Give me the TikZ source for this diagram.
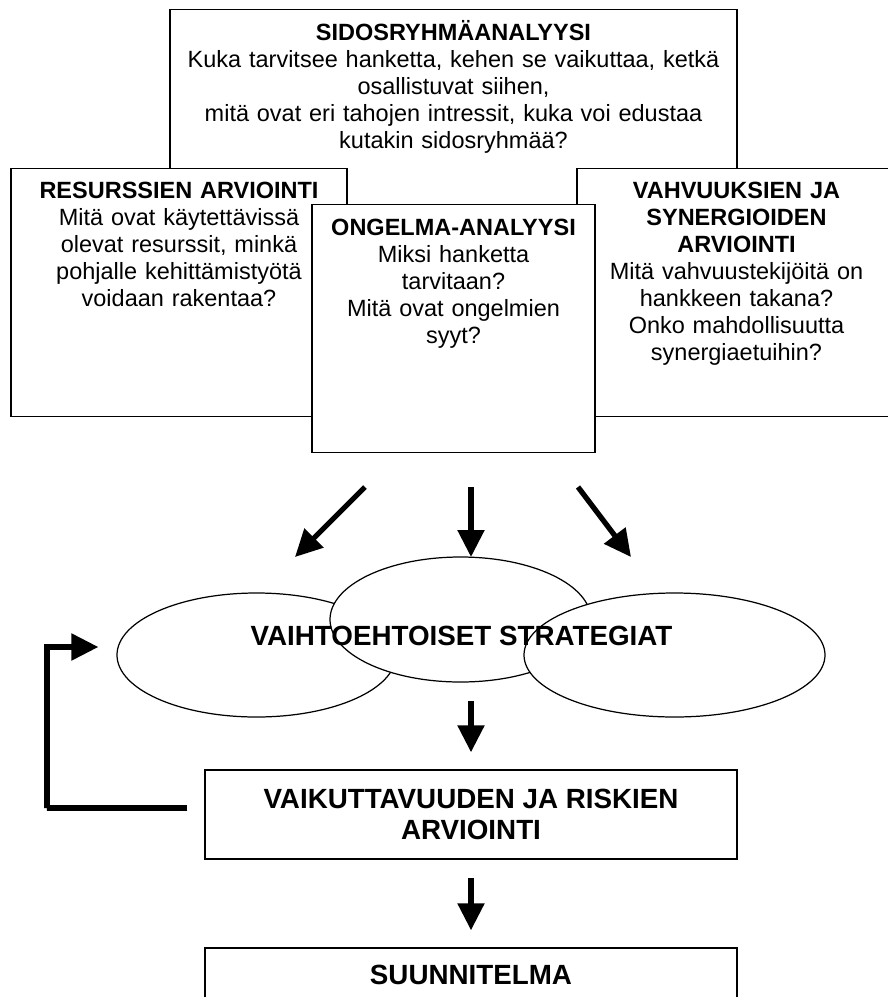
\documentclass[tikz,border=0pt]{standalone}
\usepackage{fontspec}
\setmainfont{Liberation Sans}
\usetikzlibrary{arrows.meta,shapes.geometric}

\begin{document}
\begin{tikzpicture}[
  panel/.style={draw,line width=0.8pt,fill=white,inner sep=0pt,anchor=north},
  paneltxt/.style={align=center,inner sep=0pt,anchor=base,text width=11cm,font=\fontsize{13.37}{15.37}\selectfont},
  oval/.style={ellipse,draw,line width=0.7pt,fill=white,inner sep=0pt,minimum height=2.48cm},
  step2/.style={draw,line width=0.8pt,fill=white,inner sep=0pt,minimum width=10.64cm,align=center,font=\fontsize{15.8}{17.8}\selectfont\bfseries},
  fat/.style={line width=3pt,-{Triangle[length=0.54cm,width=0.52cm]}},
]
\useasboundingbox (0,0) rectangle (17.74,-19.94);
% analyysit
\node[panel,minimum width=11.34cm,minimum height=6.22cm] (sido) at (9.07,-0.18) {};
\node[panel,minimum width=6.72cm,minimum height=4.96cm] (res) at (3.58,-3.36) {};
\node[panel,minimum width=6.40cm,minimum height=4.96cm] (vahv) at (14.74,-3.36) {};
\node[panel,minimum width=5.66cm,minimum height=4.96cm] (ong) at (9.07,-4.07) {};
\node[paneltxt] (sidotxt) at (9.07,-0.808) {\textbf{SIDOSRYHMÄANALYYSI}\\Kuka tarvitsee hanketta, kehen se vaikuttaa, ketkä\\osallistuvat siihen,\\mitä ovat eri tahojen intressit, kuka voi edustaa\\kutakin sidosryhmää?};
\node[paneltxt] (restxt) at (3.58,-3.968) {\textbf{RESURSSIEN ARVIOINTI}\\Mitä ovat käytettävissä\\olevat resurssit, minkä\\pohjalle kehittämistyötä\\voidaan rakentaa?};
\node[paneltxt] (ongtxt) at (9.07,-4.70) {\textbf{ONGELMA-ANALYYSI}\\Miksi hanketta\\tarvitaan?\\Mitä ovat ongelmien\\syyt?};
\node[paneltxt] (vahvtxt) at (14.73,-3.968) {\textbf{VAHVUUKSIEN JA}\\\textbf{SYNERGIOIDEN}\\\textbf{ARVIOINTI}\\Mitä vahvuustekijöitä on\\hankkeen takana?\\Onko mahdollisuutta\\synergiaetuihin?};
% strategiat
\node[oval,minimum width=5.58cm] (ell1) at (5.13,-13.10) {};
\node[oval,minimum width=5.22cm,minimum height=2.50cm] (ell2) at (9.21,-12.39) {};
\node[oval,minimum width=6.02cm] (ell3) at (13.49,-13.10) {};
\node[font=\fontsize{15.8}{17.8}\selectfont\bfseries,inner sep=0pt] (strat) at (9.23,-12.72) {VAIHTOEHTOISET STRATEGIAT};
% arviointi ja suunnitelma
\node[step2,minimum height=1.78cm] (vaik) at (9.42,-16.29) {VAIKUTTAVUUDEN JA RISKIEN\\ARVIOINTI};
\node[step2,minimum height=1.08cm] (suun) at (9.42,-19.50) {SUUNNITELMA};
% nuolet
\coordinate (a1) at (7.30,-9.74);
\coordinate (b1) at (5.90,-11.14);
\coordinate (a2) at (9.42,-9.74);
\coordinate (b2) at (9.42,-11.14);
\coordinate (a3) at (11.56,-9.74);
\coordinate (b3) at (12.62,-11.14);
\coordinate (a4) at (9.42,-14.02);
\coordinate (fbk) at (0.94,-16.16);
\draw[fat] (a1) -- (b1);
\draw[fat] (a2) -- (b2);
\draw[fat] (a3) -- (b3);
\draw[fat,shorten >=0.34cm] (a4) -- (vaik);
\draw[fat,shorten <=0.36cm,shorten >=0.34cm] (vaik) -- (suun);
\draw[fat,shorten <=0.34cm,shorten >=0.36cm] ([yshift=0.13cm]vaik.west) -| (fbk) |- ([yshift=0.16cm]ell1.west);
\end{tikzpicture}
\end{document}
